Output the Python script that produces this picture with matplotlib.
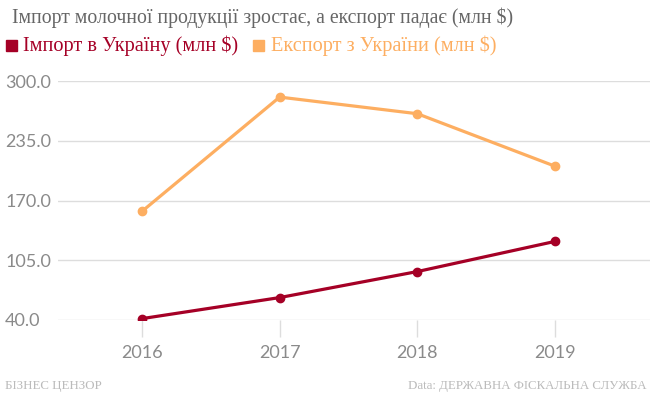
import matplotlib
matplotlib.use('Agg')
import matplotlib.pyplot as plt
from matplotlib.patches import Rectangle

# Дані (млн $)
roky = [2016, 2017, 2018, 2019]
import_ua = [41.5, 64.4, 92.7, 125.5]
eksport_ua = [158.2, 282.5, 264.4, 207.3]
y_tiky = [40.0, 105.0, 170.0, 235.0, 300.0]

zagolovok = "Імпорт молочної продукції зростає, а експорт падає (млн $)"
nazva_import = "Імпорт в Україну (млн $)"
nazva_eksport = "Експорт з України (млн $)"
dzherelo = "Data: ДЕРЖАВНА ФІСКАЛЬНА СЛУЖБА"
avtor = "БІЗНЕС ЦЕНЗОР"

CHERVONYI = '#a50026'
ORANZH = '#fdae61'
SIRYI = '#dddddd'

W, H = 650, 395
fig = plt.figure(figsize=(6.5, 3.95), dpi=100)
ax = fig.add_axes([58/W, 1 - 320/H, 1 - 58/W, (320 - 81)/H])

# Лінії
ax.plot(roky, eksport_ua, color=ORANZH, lw=2.3, marker='o', ms=6, zorder=3)
ax.plot(roky, import_ua, color=CHERVONYI, lw=2.3, marker='o', ms=6, zorder=4)

ax.set_ylim(40, 300)
ax.set_xlim(2016 - 0.61, 2019 + 0.69)
ax.set_yticks(y_tiky)
ax.set_yticklabels([f"{v:.1f}" for v in y_tiky])
ax.set_xticks(roky)
ax.set_xticklabels([str(r) for r in roky])

# Сітка
ax.grid(axis='y', color=SIRYI, lw=1)
ax.set_axisbelow(True)
for s in ax.spines.values():
    s.set_visible(False)

ax.tick_params(axis='y', length=0, pad=38, labelsize=13, labelcolor='#8a8a8a')
ax.tick_params(axis='x', length=12, width=1, color=SIRYI, pad=6,
               labelsize=13, labelcolor='#8a8a8a')
for lab in ax.get_yticklabels():
    lab.set_horizontalalignment('left')
    lab.set_fontfamily('Lato')
for lab in ax.get_xticklabels():
    lab.set_fontfamily('Lato')

# Заголовок
fig.text(12/W, 1 - 18/H, zagolovok, family='Liberation Serif', fontsize=14.2,
         color='#666666', va='center', ha='left')

# Легенда
fig.patches.append(Rectangle((6/W, 1 - 51/H), 11/W, 11/H, transform=fig.transFigure,
                             color=CHERVONYI, figure=fig))
fig.text(23/W, 1 - 46/H, nazva_import, family='Liberation Serif', fontsize=14.6,
         color=CHERVONYI, va='center', ha='left')
fig.patches.append(Rectangle((253/W, 1 - 51/H), 11/W, 11/H, transform=fig.transFigure,
                             color=ORANZH, figure=fig))
fig.text(271/W, 1 - 46/H, nazva_eksport, family='Liberation Serif', fontsize=14.6,
         color=ORANZH, va='center', ha='left')

# Підпис
fig.text(5/W, 1 - 386/H, avtor, family='Liberation Serif', fontsize=9.3,
         color='#bbbbbb', va='center', ha='left')
fig.text(647/W, 1 - 386/H, dzherelo, family='Liberation Serif', fontsize=9.3,
         color='#bbbbbb', va='center', ha='right')

fig.savefig('out.png', dpi=100, facecolor='white')
